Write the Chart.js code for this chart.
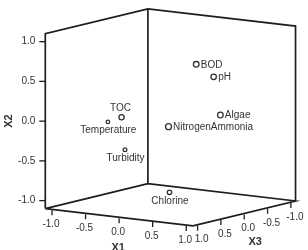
<!DOCTYPE html>
<html>
<head>
<meta charset="utf-8">
<script src="https://cdn.jsdelivr.net/npm/chart.js@4.4.1/dist/chart.umd.min.js"></script>
<style>
  html, body { margin: 0; padding: 0; background: #fff; }
  #wrap { width: 308px; height: 250px; }
</style>
</head>
<body>
<div id="wrap"><canvas id="chart" width="308" height="250"></canvas></div>
<script>
// Component plot in rotated space (3 components)
const categories = ['BOD', 'pH', 'Algae', 'NitrogenAmmonia', 'TOC', 'Temperature', 'Turbidity', 'Chlorine'];
const x1Values = [0.60, 0.70, 0.80, 0.50, -0.20, -0.80, -0.60, 0.00];
const x2Values = [0.77, 0.59, 0.12, 0.04, 0.09, -0.11, -0.45, -0.94];
const x3Values = [0.31, 0.08, 0.08, 0.76, 0.76, 0.19, 0.11, 0.02];
const tickValues = [-1.0, -0.5, 0.0, 0.5, 1.0];
const tickLabels = ['-1.0', '-0.5', '0.0', '0.5', '1.0'];
const axisTitles = ['X1', 'X2', 'X3'];
const boxLimit = 1.1;

// view (camera) - parallel projection of the 3d box onto the view plane
const view = {
  origin: [171, 117],
  e1: [69.5, 8.2],
  e2: [0, -83],
  e3: [-48.3, 11.8]
};

function project(a, b, c) {
  return {
    x: view.origin[0] + view.e1[0] * a + view.e2[0] * b + view.e3[0] * c,
    y: view.origin[1] + view.e1[1] * a + view.e2[1] * b + view.e3[1] * c
  };
}

const L = boxLimit;
const gap = { x: null, y: null };
// visible edges: three walls' verticals, two top edges, floor
const boxEdges = [
  [[-L, -L, L], [-L, L, L], [-L, L, -L], [L, L, -L], [L, -L, -L]],
  [[-L, -L, -L], [-L, L, -L]],
  [[-L, -L, L], [L, -L, L], [L, -L, -L], [-L, -L, -L], [-L, -L, L]]
];
const boxData = [];
boxEdges.forEach(path => {
  path.forEach(p => boxData.push(project(p[0], p[1], p[2])));
  boxData.push(gap);
});

const pointData = categories.map((c, i) => project(x1Values[i], x2Values[i], x3Values[i]));
const labelSide = { BOD: 'right', pH: 'right', Algae: 'right', NitrogenAmmonia: 'right', TOC: 'top' };

const INK = '#1e1e1e';
const TEXT = '#333';
const FONT = '"Liberation Sans", Arial, sans-serif';

const axesPlugin = {
  id: 'axes3d',
  afterDatasetsDraw(chart) {
    const ctx = chart.ctx;
    const sx = chart.scales.x, sy = chart.scales.y;
    const px = (p) => ({ x: sx.getPixelForValue(p.x), y: sy.getPixelForValue(p.y) });
    ctx.save();
    ctx.strokeStyle = INK;
    ctx.lineWidth = 1.3;
    ctx.fillStyle = TEXT;
    ctx.font = '10px ' + FONT;

    tickValues.forEach((v, i) => {
      // X2 on left vertical edge
      let p = px(project(-L, v, L));
      ctx.beginPath(); ctx.moveTo(p.x - 6, p.y); ctx.lineTo(p.x, p.y); ctx.stroke();
      ctx.textAlign = 'right'; ctx.textBaseline = 'middle';
      ctx.fillText(tickLabels[i], p.x - 10, p.y);

      // X1 along front-left floor edge
      p = px(project(v, -L, L));
      ctx.beginPath(); ctx.moveTo(p.x, p.y + 1); ctx.lineTo(p.x, p.y + 6); ctx.stroke();
      ctx.textAlign = 'center';
      ctx.fillText(tickLabels[i], p.x - 1, p.y + 15);

      // X3 along front-right floor edge
      p = px(project(L, -L, v));
      ctx.beginPath(); ctx.moveTo(p.x, p.y + 1); ctx.lineTo(p.x, p.y + 6); ctx.stroke();
      ctx.fillText(tickLabels[i], p.x + 4, p.y + 15);
    });

    // axis titles
    ctx.font = 'bold 11px ' + FONT;
    ctx.textAlign = 'center'; ctx.textBaseline = 'middle';
    let t = px(project(0, -L, L));
    ctx.fillText(axisTitles[0], t.x - 1, t.y + 31);
    t = px(project(L, -L, 0));
    ctx.fillText(axisTitles[2], t.x + 11, t.y + 29);
    t = px(project(-L, 0, L));
    ctx.save();
    ctx.translate(9, t.y);
    ctx.rotate(-Math.PI / 2);
    ctx.fillText(axisTitles[1], 0, 0);
    ctx.restore();

    // point labels
    ctx.font = '10px ' + FONT;
    const meta = chart.getDatasetMeta(1);
    meta.data.forEach((el, i) => {
      const side = labelSide[categories[i]] || 'bottom';
      if (side === 'right') {
        ctx.textAlign = 'left'; ctx.textBaseline = 'middle';
        ctx.fillText(categories[i], el.x + 4.5, el.y + 0.5);
      } else if (side === 'top') {
        ctx.textAlign = 'center'; ctx.textBaseline = 'middle';
        ctx.fillText(categories[i], el.x - 1, el.y - 8.5);
      } else {
        ctx.textAlign = 'center'; ctx.textBaseline = 'middle';
        ctx.fillText(categories[i], el.x + 0.5, el.y + 8.5);
      }
    });
    ctx.restore();
  }
};

new Chart(document.getElementById('chart'), {
  type: 'scatter',
  data: {
    datasets: [
      {
        label: 'box',
        data: boxData,
        showLine: true,
        spanGaps: false,
        borderColor: INK,
        borderWidth: 1.7,
        pointRadius: 0,
        fill: false
      },
      {
        label: 'components',
        data: pointData,
        pointStyle: 'circle',
        pointRadius: (c) => {
          const i = c.dataIndex;
          const depth = x1Values[i] + x3Values[i];
          return Math.max(1.6, Math.min(3.0, 2.2 + 0.7 * depth));
        },
        pointBorderWidth: 1.3,
        borderColor: '#333',
        backgroundColor: '#fff'
      }
    ]
  },
  options: {
    responsive: false,
    animation: false,
    events: [],
    layout: { padding: 0 },
    plugins: { legend: { display: false }, tooltip: { enabled: false } },
    scales: {
      x: { type: 'linear', min: 0, max: 308, display: false },
      y: { type: 'linear', min: 0, max: 250, reverse: true, display: false }
    }
  },
  plugins: [axesPlugin]
});
</script>
</body>
</html>
